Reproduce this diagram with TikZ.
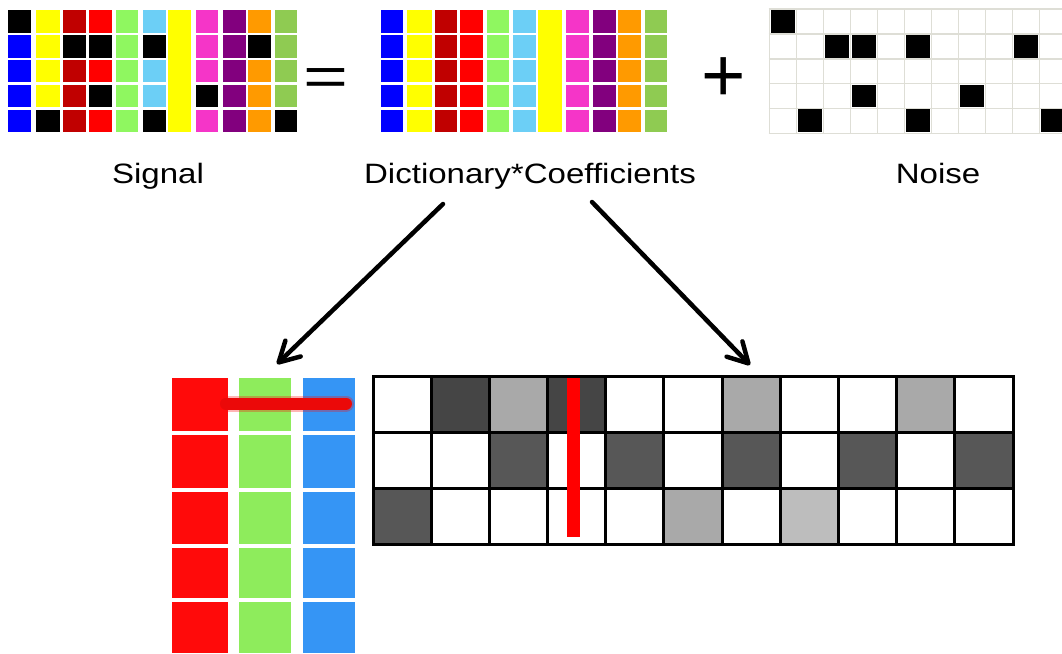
\documentclass[tikz,border=0pt]{standalone}
\usepackage{fontspec}
\setmainfont{Liberation Sans}
\newfontfamily\labelfont[FakeStretch=1.18]{Liberation Sans}
\newfontfamily\eqfont[FakeStretch=1.4]{Liberation Sans}
\usetikzlibrary{arrows.meta}

% palette of the colour matrices
\definecolor{cBl}{HTML}{0000FF}
\definecolor{cY}{HTML}{FFFF00}
\definecolor{cDR}{HTML}{C00000}
\definecolor{cR}{HTML}{FF0000}
\definecolor{cLG}{HTML}{8FF760}
\definecolor{cLB}{HTML}{6CCFF6}
\definecolor{cM}{HTML}{F535C8}
\definecolor{cP}{HTML}{82007E}
\definecolor{cO}{HTML}{FF9A00}
\definecolor{cG}{HTML}{8FCB52}
\definecolor{gridgray}{HTML}{DEDED6}
% atoms and coefficient shades
\definecolor{atomR}{HTML}{FF0A0A}
\definecolor{atomG}{HTML}{8EEC5C}
\definecolor{atomB}{HTML}{3595F5}
\definecolor{shDark}{HTML}{454545}
\definecolor{shMid}{HTML}{575757}
\definecolor{shLight}{HTML}{A9A9A9}
\definecolor{shPale}{HTML}{BDBDBD}

% one column of a 5-row colour matrix: left, right, colours top to bottom
\newcommand\matcol[3]{%
  \foreach \c [count=\i from 0] in {#3} {
    \pgfmathsetmacro\ctop{{10,35.3,60,85,109.5}[\i]}
    \pgfmathsetmacro\cbot{{33.3,57.5,82.3,107.3,132.3}[\i]}
    \fill[\c] (#1,\ctop) rectangle (#2,\cbot);
  }}

\begin{document}
\begin{tikzpicture}[x=1pt,y=-1pt,
  lbl/.style={font=\labelfont\fontsize{28}{34}\selectfont, anchor=base, inner sep=0pt},
  opsign/.style={anchor=base, inner sep=0pt},
  pointer/.style={line width=4.5pt, line cap=round,
    -{Straight Barb[length=20pt,width=22pt,round]}},
  coefline/.style={line width=3pt},
]
\fill[white] (0,0) rectangle (1062,653);
\useasboundingbox (0,0) rectangle (1062,653);

% ---- signal matrix
\matcol{8.3}{30.7}{black,cBl,cBl,cBl,cBl}
\matcol{35.7}{59.5}{cY,cY,cY,cY,black}
\matcol{63}{86}{cDR,black,cDR,cDR,cDR}
\matcol{89}{112.3}{cR,black,cR,black,cR}
\matcol{116}{138.3}{cLG,cLG,cLG,cLG,cLG}
\matcol{143.3}{165.7}{cLB,black,cLB,cLB,black}
\fill[cY] (167.5,10) rectangle (190.7,132.3);
\matcol{196}{218.3}{cM,cM,cM,black,cM}
\matcol{222.7}{246}{cP,cP,cP,cP,cP}
\matcol{248.3}{270.7}{cO,black,cO,cO,cO}
\matcol{275}{297.3}{cG,cG,cG,cG,black}

% ---- dictionary * coefficients matrix
\matcol{381}{403.3}{cBl,cBl,cBl,cBl,cBl}
\matcol{407.3}{431.7}{cY,cY,cY,cY,cY}
\matcol{435}{457.3}{cDR,cDR,cDR,cDR,cDR}
\matcol{460}{482.7}{cR,cR,cR,cR,cR}
\matcol{486.7}{509}{cLG,cLG,cLG,cLG,cLG}
\matcol{513.3}{535.7}{cLB,cLB,cLB,cLB,cLB}
\fill[cY] (537.5,10) rectangle (561.7,132.3);
\matcol{566}{589}{cM,cM,cM,cM,cM}
\matcol{592.7}{616}{cP,cP,cP,cP,cP}
\matcol{618.3}{640.7}{cO,cO,cO,cO,cO}
\matcol{645}{667.3}{cG,cG,cG,cG,cG}

% ---- noise matrix
\foreach \k in {0,...,11}
  \draw[gridgray, line width=1.6pt] ({769.5+27*\k},8.5) -- ({769.5+27*\k},134);
\foreach \y in {9,34,58.8,83.5,108.5,133.3}
  \draw[gridgray, line width=1.6pt] (768.6,\y) -- (1062,\y);
\foreach \r/\c in {1/1, 2/3, 2/4, 2/6, 2/10, 4/4, 4/8, 5/2, 5/6, 5/11}
  \fill[black] ({771+27*(\c-1)},{10+24.85*(\r-1)}) rectangle +(23.5,22.8);

% ---- operators and captions
\node[opsign, font=\eqfont\fontsize{55}{60}\selectfont] (eq) at (326,95.5) {=};
\node[opsign, font=\fontsize{76}{86}\selectfont] (plus) at (724,101.5) {+};
\node[lbl] (sig) at (158,183) {Signal};
\node[lbl] (dc)  at (530,183) {Dictionary*Coefficients};
\node[lbl] (noi) at (938,183) {Noise};

% ---- dictionary atoms
\foreach \l/\r/\c in {172/228/atomR, 239/291/atomG, 303/355/atomB}
  \foreach \t/\b in {378/431, 435/488, 492/544, 548/598, 602/653}
    \fill[\c] (\l,\t) rectangle (\r,\b);
\draw[atomR, line width=16pt, line cap=round, opacity=0.3] (226,403.5) -- (346,403.5);
\draw[atomR!92!black, line width=12pt, line cap=round] (226,403.5) -- (346,403.5);

% ---- coefficient matrix
\foreach \r/\c/\s in {1/2/shDark, 1/3/shLight, 1/4/shDark, 1/7/shLight, 1/10/shLight,
                      2/3/shMid, 2/5/shMid, 2/7/shMid, 2/9/shMid, 2/11/shMid,
                      3/1/shMid, 3/6/shLight, 3/8/shPale}
  \fill[\s] ({373+58.18*(\c-1)},{376+56.2*(\r-1)}) rectangle +(58.18,56.2);
\foreach \k in {1,...,10}
  \draw[coefline] ({373+58.18*\k},376) -- ({373+58.18*\k},544.6);
\foreach \k in {1,2}
  \draw[coefline] (373,{376+56.2*\k}) -- (1013,{376+56.2*\k});
\draw[coefline] (373,376) rectangle (1013,544.6);
\fill[cR] (567,378.3) rectangle (580,536.7);

% ---- pointers from the product to its two factors
\coordinate (p1s) at (443,204);
\coordinate (p1e) at (277,364);
\coordinate (p2s) at (592,202);
\coordinate (p2e) at (750,365);
\draw[pointer] (p1s) -- (p1e);
\draw[pointer] (p2s) -- (p2e);
\end{tikzpicture}
\end{document}
